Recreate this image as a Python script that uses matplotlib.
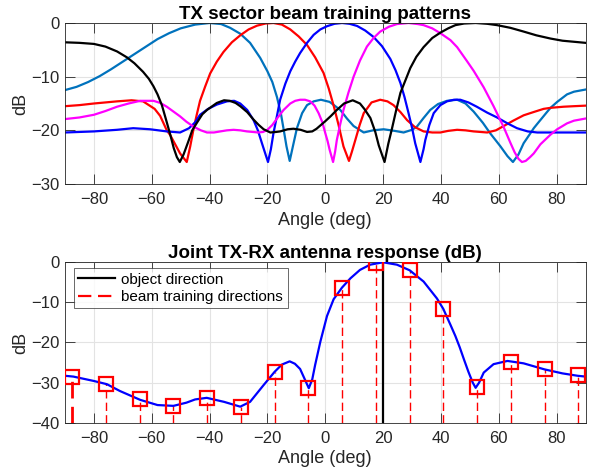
import matplotlib
matplotlib.use("Agg")
import matplotlib.pyplot as plt

plt.rcParams['font.family'] = ['Liberation Sans', 'DejaVu Sans']

# ---------------- top panel: TX sector beam patterns (angle deg, dB) -------------
beam1_ang = [-90, -86, -82, -78, -74, -70, -66, -62, -58, -54, -50, -45, -40, -36, -32.9,
             -29.4, -26, -22.5, -20, -18.3, -16.7, -15.3, -14.4, -13.4, -12.3, -11.2, -9.8, -8,
             -6.3, -4, -1.5, 1.5, 5.2, 7.5, 9.8, 13.3, 16.5, 20.2, 24, 27.1, 30, 31.7, 34, 36.3,
             39, 42.1, 45.6, 48.5, 51.3, 54.5, 57.1, 59, 60.6, 63, 64.9, 66.8, 68.6, 71, 72.1,
             73.3, 76.5, 77.9, 80.2, 83.6, 86, 90]
beam1_db = [-12.5, -11.9, -11.0, -9.9, -8.6, -7.2, -5.8, -4.4, -3.0, -1.9, -1.0, -0.3, 0, -0.2, -0.9,
            -2.0, -3.7, -6.5, -9.0, -11.0, -13.8, -17.0, -19.8, -23.0, -25.7, -23.0, -19.6, -16.8,
            -15.3, -14.6, -14.3, -14.7, -16.2, -17.8, -19.2, -20.4, -20.0, -19.8, -20.1, -20.4, -19.9, -19.3, -17.7, -16.2,
            -15.1, -14.5, -14.3, -15.0, -16.5, -18.6, -20.6, -21.9, -23.0, -24.8, -25.9, -24.5, -22.4, -20.5, -19.6,
            -18.8, -16.7, -15.8, -14.7, -13.3, -12.8, -12.4]

beam2_ang = [-90, -85, -80, -72, -67, -63, -59, -57.1, -54.8, -53.6, -51.8, -50.2, -47.9, -46.7,
             -45.6, -44.4, -43.3, -41.5, -39.8, -37.5, -35.2, -32.3, -29.4, -26.5, -23.6, -20.7, -17.9,
             -15, -12.1, -9.2, -6.3, -3.5, -0.6, 1.2, 2.9, 4.6, 6.3, 8.2, 9.2, 10.4, 11.9, 13.3, 16,
             19, 21.5, 23.6, 26, 28.3, 31, 34, 37, 39.8, 42.5, 45.6, 48.5, 51.3, 56, 59, 61.7, 65,
             68.6, 72, 75.5, 78, 82.4, 86, 90]
beam2_db = [-15.5, -15.3, -15.0, -14.6, -14.4, -14.6, -16.0, -17.3, -20.0, -20.9, -22.7, -24.3, -25.9, -23.0,
            -19.9, -17.0, -14.5, -11.8, -9.4, -7.2, -5.4, -3.6, -2.3, -1.2, -0.5, -0.1, 0,
            -0.3, -1.2, -2.5, -4.1, -6.4, -9.3, -12.2, -15.4, -19.0, -23.0, -25.7, -24.0, -21.8, -19.0, -16.8, -14.8,
            -14.3, -14.6, -15.3, -16.6, -18.1, -19.4, -20.2, -20.4, -20.4, -20.1, -19.9, -20.0, -20.2, -20.4, -20.0, -19.2, -18.2,
            -17.2, -16.6, -16.0, -15.8, -15.6, -15.5, -15.4]

beam3_ang = [-90, -80, -72, -66.4, -60.6, -54.8, -50.2, -47.1, -45, -43.3, -40.5, -37.5, -34, -31.5,
             -29.4, -27, -24.8, -23.3, -21.9, -19.8, -18.8, -17.9, -16.7, -15.6, -13.8, -12.1, -10.4,
             -8.7, -6.3, -4, -1.7, 0.6, 3.2, 5.8, 8.4, 11, 13.8, 16.7, 19.6, 22.5, 24.3, 26, 27.4,
             28.8, 30, 31.1, 32.9, 34, 34.6, 36, 37.5, 39.8, 42.1, 44.5, 46.7, 49.5, 52.4, 56,
             59.4, 63, 66.3, 70, 73.3, 80, 90]
beam3_db = [-20.4, -20.2, -19.9, -19.6, -19.8, -20.2, -20.4, -19.6, -18.5, -17.1, -16.0, -15.2, -14.6, -14.5,
            -15.0, -16.2, -18.1, -20.0, -22.4, -25.9, -23.5, -20.5, -17.3, -14.3, -11.3, -9.0, -7.2,
            -5.6, -3.7, -2.2, -1.2, -0.6, -0.15, 0, -0.15, -0.55, -1.4, -2.6, -4.3, -6.7, -8.8, -11.2, -13.8,
            -16.8, -19.5, -22.4, -25.9, -23.5, -21.8, -19.0, -16.8, -15.3, -14.6, -14.3, -14.3, -14.8, -15.6, -16.7,
            -17.6, -18.7, -19.6, -20.2, -20.4, -20.4, -20.4]

beam4_ang = [-90, -85, -80, -76, -72, -68, -64, -59.4, -57, -54.8, -52.5, -50.2, -48, -45.6, -43,
             -40.9, -38.5, -36.3, -34, -31.7, -29.4, -27.1, -23.1, -21.5, -20, -18.3, -16.7, -14.4,
             -12.1, -10.4, -8.7, -7, -5.2, -3.7, -2.3, -1, 0, 0.8, 1.5, 2.7, 3.4, 4, 5.2, 6.3, 8,
             9.8, 12, 14.4, 16.7, 19, 22, 24.8, 28.8, 32, 34, 37, 39.8, 43.3, 45.6, 49, 51.3, 54.8,
             58.2, 61.7, 64, 65.5, 66.8, 68, 69.3, 70.8, 72.1, 74.4, 77.9, 80.2, 83.6, 86, 90]
beam4_db = [-17.9, -17.6, -17.1, -16.4, -15.6, -15.0, -14.5, -14.5, -14.9, -15.6, -16.5, -17.4, -18.4, -19.3, -20.0,
            -20.4, -20.4, -20.2, -20.0, -19.9, -20.0, -20.2, -20.4, -20.3, -19.9, -19.0, -17.8, -16.2,
            -15.0, -14.5, -14.3, -14.3, -14.6, -15.4, -16.8, -18.5, -20.5, -22.0, -23.6, -25.9, -24.0, -21.8, -18.8, -16.2, -13.0,
            -10.0, -7.0, -4.4, -2.8, -1.6, -0.7, -0.2, 0, -0.2, -0.4, -1.0, -1.9, -3.2, -4.5, -7.1, -8.9, -12.0,
            -15.5, -19.4, -22.3, -24.1, -25.3, -25.9, -25.7, -25.0, -24.3, -22.6, -20.8, -19.8, -18.7, -18.2, -17.8]

beam5_ang = [-90, -85, -80, -76, -72, -68.6, -66, -63, -61, -59.4, -58, -56.5, -54.8, -53.5, -52.4,
             -51.3, -50.3, -49, -47.3, -46, -44.4, -42.5, -40.9, -37.5, -35, -33, -31, -29.4, -27,
             -24.8, -23, -21.3, -19, -17, -15.6, -13, -11, -8.5, -6.3, -4.5, -3, -1.5, 0, 2, 4, 6.5,
             9.5, 12, 13.5, 15.6, 17.3, 18.5, 20.5, 21.8, 23.1, 24.5, 26, 28, 29.4, 31.5, 34, 37,
             39.8, 42.5, 45, 48, 52, 56, 59.4, 64, 68.6, 73, 77.9, 82, 86, 90]
beam5_db = [-3.6, -3.7, -3.9, -4.4, -5.3, -6.4, -7.5, -9.1, -10.4, -11.8, -13.3, -15.3, -18.5, -21.0, -23.3,
            -25.0, -25.9, -24.5, -22.0, -20.0, -18.6, -17.0, -16.2, -14.9, -14.4, -14.5, -14.9, -15.5, -16.6,
            -18.0, -19.0, -19.8, -20.4, -20.3, -20.2, -19.8, -19.7, -19.9, -20.3, -20.2, -19.7, -19.0, -18.3, -17.3, -16.2, -15.0,
            -14.4, -15.0, -16.0, -17.7, -20.3, -22.8, -25.9, -22.5, -19.6, -16.3, -13.0, -10.3, -8.4, -6.3, -4.5, -2.8,
            -1.8, -1.0, -0.4, -0.1, 0, -0.15, -0.4, -0.9, -1.6, -2.3, -2.9, -3.3, -3.5, -3.7]

# ---------------- bottom panel: joint TX-RX response ------------------------------
joint_ang = [-90, -87.1, -80, -75.5, -71, -64, -58, -52.5, -48, -45, -41, -35, -29.4, -26, -21.3,
             -17.5, -15, -12.3, -10.5, -8.7, -7, -5.7, -4.5, -3.5, -1.7, 0.6, 2.9, 5.8, 8.7, 12,
             15.5, 20, 24.8, 29.2, 34, 38.6, 40.8, 43.3, 45, 46.5, 48, 49.5, 51, 52, 53.2, 54.8, 58.2,
             63, 68.6, 75.8, 82, 87.3, 90]
joint_db = [-28.3, -28.5, -29.6, -30.4, -32.1, -34.3, -35.6, -35.8, -35.0, -34.2, -33.8, -34.8, -36.0, -34.8, -30.6,
            -27.3, -25.5, -24.7, -25.3, -26.6, -29.3, -31.4, -29.2, -25.6, -19.8, -13.4, -9.2, -6.3, -4.0, -1.9,
            -0.6, 0, -0.6, -2.0, -4.8, -9.0, -11.6, -15.6, -18.4, -21.2, -24.3, -27.3, -30.0, -31.3, -30.0, -27.5, -25.4,
            -24.6, -25.2, -26.7, -27.7, -28.3, -28.5]

train_ang = [-87.5, -75.83, -64.17, -52.5, -40.83, -29.17, -17.5, -5.83,
             5.83, 17.5, 29.17, 40.83, 52.5, 64.17, 75.83, 87.5]
train_db = [-28.5, -30.3, -34.2, -35.8, -33.9, -36.0, -27.3, -31.3,
            -6.3, -0.25, -2.0, -11.6, -31.1, -24.8, -26.7, -28.2]
object_ang = 20

beam_colors = ['#0072BD', '#FF0000', '#0000FF', '#FF00FF', '#000000']

fig = plt.figure(figsize=(5.93, 4.75), dpi=100)
ax1 = fig.add_axes([0.1096, 0.6126, 0.8778, 0.339])
ax2 = fig.add_axes([0.1096, 0.1101, 0.8778, 0.3377])


def style(ax):
    ax.set_xlim(-90, 90)
    ax.set_xticks([-80, -60, -40, -20, 0, 20, 40, 60, 80])
    ax.grid(True, color='#e3e3e3', linewidth=0.8)
    ax.set_axisbelow(True)
    ax.tick_params(direction='in', top=True, right=True, length=7, width=0.6,
                   color='#262626', labelsize=12, labelcolor='#262626')
    ax.tick_params(axis='x', pad=6)
    ax.tick_params(axis='y', pad=4)
    for s in ax.spines.values():
        s.set_color('#262626')
        s.set_linewidth(0.6)
    ax.set_xlabel('Angle (deg)', fontsize=13, color='#262626', labelpad=3)
    ax.set_ylabel('dB', fontsize=13, color='#262626', labelpad=1)


beams = [(beam1_ang, beam1_db), (beam2_ang, beam2_db), (beam3_ang, beam3_db),
         (beam4_ang, beam4_db), (beam5_ang, beam5_db)]
for (a, d), c in zip(beams, beam_colors):
    ax1.plot(a, d, color=c, linewidth=1.6)
ax1.set_ylim(-30, 0)
ax1.set_yticks([-30, -20, -10, 0])
style(ax1)
ax1.set_title('TX sector beam training patterns', fontsize=13.5, fontweight='bold', pad=3)

ax2.plot(joint_ang, joint_db, color='#0000FF', linewidth=1.6, zorder=3)
ax2.plot([object_ang, object_ang], [-40, 0], color='black', linewidth=1.6,
         label='object direction', zorder=2)
for i, (a, d) in enumerate(zip(train_ang, train_db)):
    ax2.plot([a, a], [-40, d], color='#FF0000', linewidth=2.0 if i == 0 else 1.0,
             dashes=(6, 3), zorder=2,
             label='beam training directions' if i == 0 else None)
ax2.plot(train_ang, train_db, linestyle='none', marker='s', markersize=9.5,
         markerfacecolor='none', markeredgecolor='#FF0000', markeredgewidth=1.6, zorder=4)
ax2.set_ylim(-40, 0)
ax2.set_yticks([-40, -30, -20, -10, 0])
style(ax2)
ax2.set_title('Joint TX-RX antenna response (dB)', fontsize=13.5, fontweight='bold', pad=3)

leg = ax2.legend(loc='upper left', bbox_to_anchor=(0.017, 0.963), borderaxespad=0,
                 fontsize=11, frameon=True, fancybox=False, handlelength=2.4,
                 handletextpad=0.4, borderpad=0.3, labelspacing=0.2)
leg.get_frame().set_edgecolor('#262626')
leg.get_frame().set_linewidth(0.6)
for h in leg.get_lines():
    h.set_linewidth(1.6)

fig.savefig('out.png', dpi=100)
